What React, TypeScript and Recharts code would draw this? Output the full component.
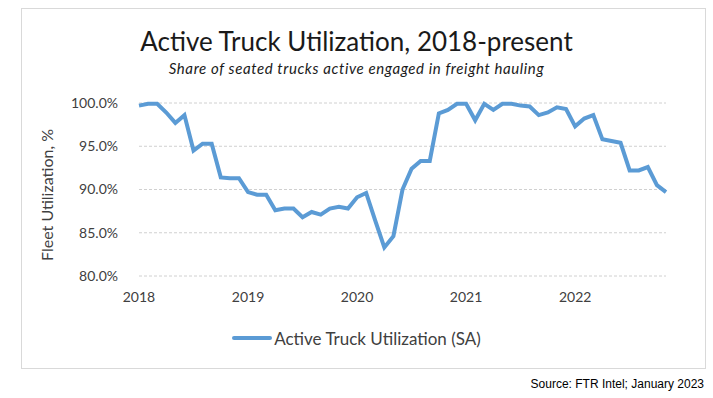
import { LineChart, Line, XAxis, YAxis, CartesianGrid, Legend } from "recharts";

const years = ["2018", "2019", "2020", "2021", "2022"];
const yearTicks = [0, 12, 24, 36, 48];
const yTicks = [80, 85, 90, 95, 100];

const util2018 = [99.7, 99.9, 99.9, 98.9, 97.7, 98.6, 94.5, 95.3, 95.3, 91.4, 91.3, 91.3];
const util2019 = [89.7, 89.4, 89.4, 87.6, 87.8, 87.8, 86.8, 87.4, 87.1, 87.8, 88.0, 87.8];
const util2020 = [89.1, 89.6, 86.4, 83.3, 84.6, 90.0, 92.4, 93.3, 93.3, 98.8, 99.2, 99.9];
const util2021 = [99.9, 98.0, 99.9, 99.2, 99.9, 99.9, 99.7, 99.6, 98.6, 98.9, 99.5, 99.3];
const util2022 = [97.3, 98.2, 98.6, 95.8, 95.6, 95.4, 92.2, 92.2, 92.6, 90.5, 89.7];

const values = [...util2018, ...util2019, ...util2020, ...util2021, ...util2022];
const data = values.map((v, i) => ({ month: i, util: v }));

const font = "Lato, 'Open Sans', sans-serif";
const blue = "#5b9bd5";

function LegendContent() {
  return (
    <div style={{ display: "flex", alignItems: "center", justifyContent: "center", fontFamily: font, fontSize: 17, color: "#404040", height: 20 }}>
      <span style={{ display: "inline-block", width: 40, height: 4, background: blue, borderRadius: 2, marginRight: 2 }} />
      <span>Active Truck Utilization (SA)</span>
    </div>
  );
}

export default function App() {
  return (
    <div style={{ position: "relative", width: 713, height: 398, background: "#fff", overflow: "hidden" }}>
      <style>{`body{margin:0}`}</style>
      <div style={{ position: "absolute", left: 21, top: 8, width: 683, height: 359, border: "1px solid #d9d9d9" }} />
      <div style={{ position: "absolute", left: 0, top: 25, width: 713, textAlign: "center", fontFamily: font, fontSize: 26, color: "#1a1a1a" }}>
        Active Truck Utilization, 2018-present
      </div>
      <div style={{ position: "absolute", left: 0, top: 59, width: 713, textAlign: "center", fontFamily: font, fontSize: 15, letterSpacing: 0.6, fontStyle: "italic", color: "#1a1a1a" }}>
        Share of seated trucks active engaged in freight hauling
      </div>
      <div style={{ position: "absolute", left: 47, top: 195, width: 0, height: 0 }}>
        <div style={{ position: "absolute", left: -100, top: -10, width: 200, height: 20, lineHeight: "20px", textAlign: "center", transform: "rotate(-90deg)", fontFamily: font, fontSize: 16, color: "#404040", whiteSpace: "nowrap" }}>
          Fleet Utilization, %
        </div>
      </div>
      <div style={{ position: "absolute", left: 0, top: 0 }}>
        <LineChart width={713} height={398} data={data} margin={{ top: 103, right: 47, bottom: 72, left: 59 }}>
          <CartesianGrid vertical={false} stroke="#d0d0d0" strokeDasharray="3 2" />
          <XAxis
            dataKey="month"
            type="number"
            domain={[0, 58]}
            ticks={yearTicks}
            tickFormatter={(v: number) => years[yearTicks.indexOf(v)]}
            axisLine={false}
            tickLine={false}
            tickSize={0}
            tickMargin={16}
            tick={{ fontFamily: font, fontSize: 14, fill: "#404040" }}
            interval={0}
          />
          <YAxis
            domain={[80, 100]}
            ticks={yTicks}
            width={80}
            axisLine={false}
            tickLine={false}
            tickSize={0}
            tickMargin={21}
            tickFormatter={(v: number) => v.toFixed(1) + "%"}
            tick={{ fontFamily: font, fontSize: 14, fill: "#404040" }}
          />
          <Legend
            content={<LegendContent />}
            wrapperStyle={{ position: "absolute", top: 328, left: 0, width: 713 }}
          />
          <Line
            type="linear"
            dataKey="util"
            stroke={blue}
            strokeWidth={4}
            dot={false}
            isAnimationActive={false}
          />
        </LineChart>
      </div>
      <div style={{ position: "absolute", right: 9, top: 377, fontFamily: "'Liberation Sans', Arial, sans-serif", fontSize: 12, color: "#000" }}>
        Source: FTR Intel; January 2023
      </div>
    </div>
  );
}
